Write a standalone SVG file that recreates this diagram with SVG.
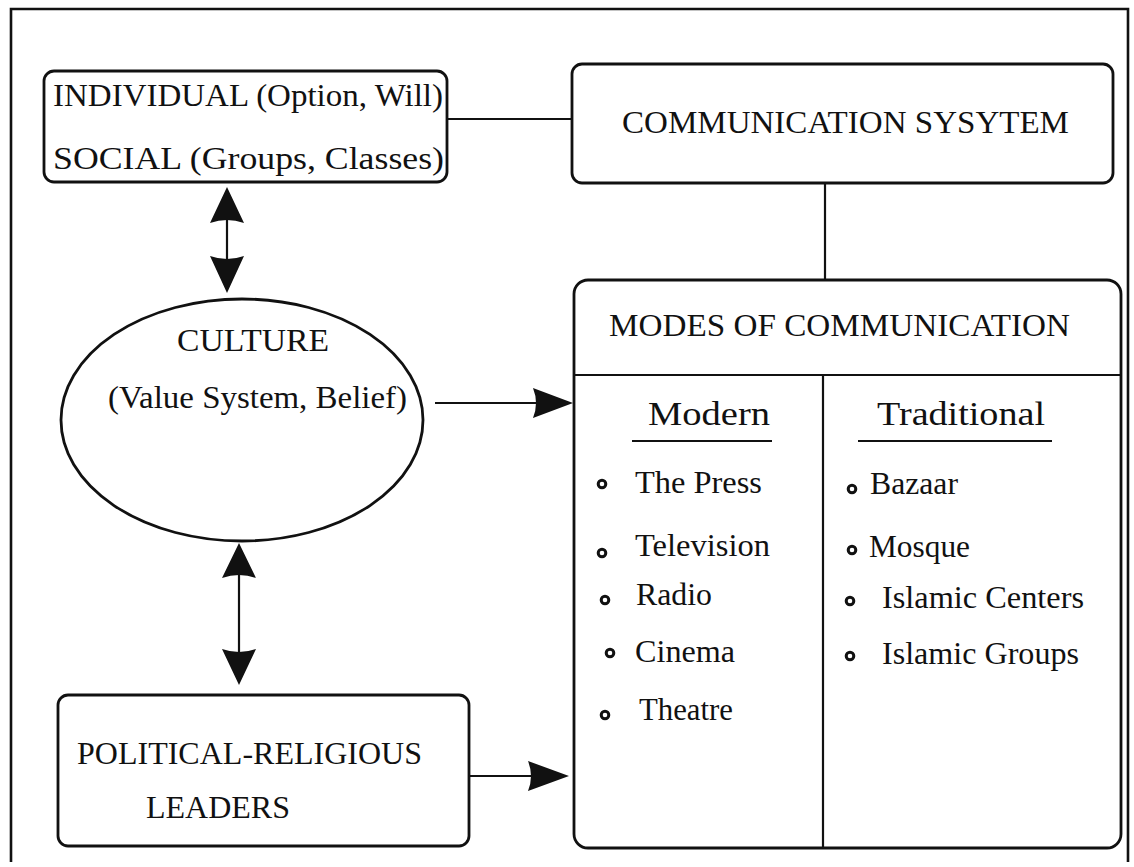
<svg xmlns="http://www.w3.org/2000/svg" width="1134" height="867" viewBox="0 0 1134 867">
<style>
.box{fill:#fff;stroke:#111;stroke-width:2.8}
.ln{fill:none;stroke:#111;stroke-width:2.2}
.head{fill:#111;stroke:none}
.t{font-family:"Liberation Serif","Times New Roman",Tinos,serif;fill:#111;font-size:31px}
.h{font-size:33px}
.dot{fill:none;stroke:#111;stroke-width:3}
</style>
<rect width="1134" height="867" fill="#fff"/>
<path id="frame" d="M11 862 V9 H1128 V862" fill="none" stroke="#111" stroke-width="2.6"/>

<g id="connectors">
  <line class="ln" x1="447" y1="119" x2="572" y2="119"/>
  <line class="ln" x1="825" y1="183" x2="825" y2="280"/>
  <line class="ln" x1="227" y1="218" x2="227" y2="260"/>
  <path class="head" d="M227 187 L210 223 Q227 217 244 223 Z"/>
  <path class="head" d="M227 293 L210 256 Q227 262 244 256 Z"/>
  <line class="ln" x1="239" y1="575" x2="239" y2="652"/>
  <path class="head" d="M239 543 L222 578 Q239 572 256 578 Z"/>
  <path class="head" d="M239 685 L222 649 Q239 655 256 649 Z"/>
  <line class="ln" x1="435" y1="403" x2="536" y2="403"/>
  <path class="head" d="M573 403 L533 388 Q539 403 533 418 Z"/>
  <line class="ln" x1="469" y1="776" x2="531" y2="776"/>
  <path class="head" d="M569 776 L528 761 Q534 776 528 791 Z"/>
</g>

<g id="individual-social">
  <rect class="box" x="44" y="71" width="403" height="111" rx="10"/>
  <text class="t" x="53" y="106" font-size="30" textLength="390" lengthAdjust="spacingAndGlyphs">INDIVIDUAL (Option, Will)</text>
  <text class="t" x="53" y="169" textLength="391" lengthAdjust="spacingAndGlyphs">SOCIAL (Groups, Classes)</text>
</g>

<g id="communication-system">
  <rect class="box" x="572" y="64" width="541" height="119" rx="10"/>
  <text class="t" x="622" y="133" textLength="447" lengthAdjust="spacingAndGlyphs">COMMUNICATION SYSYTEM</text>
</g>

<g id="culture">
  <ellipse class="box" cx="242" cy="420" rx="181" ry="121"/>
  <text class="t" x="177" y="351" textLength="152" lengthAdjust="spacingAndGlyphs">CULTURE</text>
  <text class="t" x="108" y="408" textLength="299" lengthAdjust="spacingAndGlyphs">(Value System, Belief)</text>
</g>

<g id="leaders">
  <rect class="box" x="58" y="695" width="411" height="151" rx="10"/>
  <text class="t" x="77" y="764" textLength="345" lengthAdjust="spacingAndGlyphs">POLITICAL-RELIGIOUS</text>
  <text class="t" x="146" y="818" textLength="144" lengthAdjust="spacingAndGlyphs">LEADERS</text>
</g>

<g id="modes">
  <rect class="box" x="574" y="280" width="547" height="568" rx="14"/>
  <line class="ln" x1="574" y1="375" x2="1121" y2="375" stroke-width="2.6"/>
  <line class="ln" x1="823" y1="375" x2="823" y2="848"/>
  <text class="t" x="609" y="336" textLength="461" lengthAdjust="spacingAndGlyphs">MODES OF COMMUNICATION</text>
  <text class="t h" x="648" y="425" textLength="122" lengthAdjust="spacingAndGlyphs">Modern</text>
  <line class="ln" x1="632" y1="441" x2="772" y2="441" stroke-width="3"/>
  <text class="t h" x="877" y="425" textLength="168" lengthAdjust="spacingAndGlyphs">Traditional</text>
  <line class="ln" x1="858" y1="441" x2="1052" y2="441" stroke-width="3"/>

  <circle class="dot" cx="602" cy="484" r="3.8"/>
  <text class="t" x="635" y="493" textLength="127" lengthAdjust="spacingAndGlyphs">The Press</text>
  <circle class="dot" cx="602" cy="553" r="3.8"/>
  <text class="t" x="635" y="556" textLength="135" lengthAdjust="spacingAndGlyphs">Television</text>
  <circle class="dot" cx="605" cy="600" r="3.8"/>
  <text class="t" x="636" y="605" textLength="76" lengthAdjust="spacingAndGlyphs">Radio</text>
  <circle class="dot" cx="610" cy="653" r="3.8"/>
  <text class="t" x="635" y="662" textLength="100" lengthAdjust="spacingAndGlyphs">Cinema</text>
  <circle class="dot" cx="605" cy="715" r="3.8"/>
  <text class="t" x="639" y="720" textLength="94" lengthAdjust="spacingAndGlyphs">Theatre</text>

  <circle class="dot" cx="852" cy="489" r="3.8"/>
  <text class="t" x="870" y="494" textLength="88" lengthAdjust="spacingAndGlyphs">Bazaar</text>
  <circle class="dot" cx="852" cy="550" r="3.8"/>
  <text class="t" x="869" y="557" textLength="101" lengthAdjust="spacingAndGlyphs">Mosque</text>
  <circle class="dot" cx="850" cy="601" r="3.8"/>
  <text class="t" x="882" y="608" textLength="202" lengthAdjust="spacingAndGlyphs">Islamic Centers</text>
  <circle class="dot" cx="850" cy="656" r="3.8"/>
  <text class="t" x="882" y="664" textLength="197" lengthAdjust="spacingAndGlyphs">Islamic Groups</text>
</g>
</svg>
